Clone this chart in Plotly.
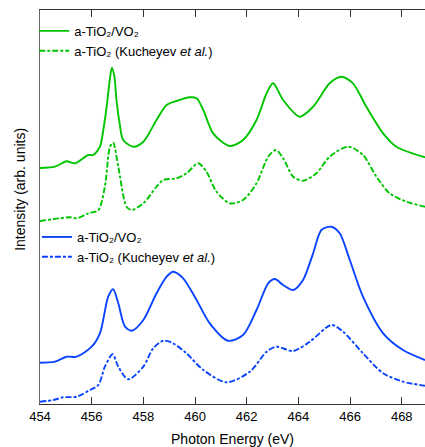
import plotly.graph_objects as go

# Photon energies (eV) and intensities (arb. units, offset stacked)
e_green_solid = [454.0, 454.58, 455.03, 455.35, 455.87, 456.06, 456.32, 456.45, 456.58, 456.7, 456.78,
                 456.88, 456.96, 457.08, 457.22, 457.61, 458.0, 458.51, 458.9, 459.28, 459.8, 460.06,
                 460.32, 460.7, 461.35, 461.86, 462.38, 462.77, 463.02, 463.41, 464.05, 464.57, 465.21,
                 465.66, 466.11, 466.63, 467.28, 467.79, 468.9]
i_green_solid = [236, 237.3, 242.7, 240.7, 249, 249, 257.3, 274, 297.3, 324, 336.3,
                 327.3, 304, 281, 264, 257.3, 262.3, 284, 299, 303, 306.7, 305.7,
                 294, 270.7, 258, 264, 284, 310.7, 320.7, 304, 287.3, 297.3, 320.7,
                 327.3, 320.7, 297.3, 270.7, 257.3, 246.7]

e_green_dash = [454.0, 454.77, 455.16, 455.42, 455.87, 456.26, 456.51, 456.71, 456.83, 457.03, 457.35,
                457.55, 458.0, 458.51, 458.77, 459.28, 459.67, 460.12, 460.44, 460.83, 461.35, 461.86,
                462.38, 462.83, 463.13, 463.41, 463.8, 464.18, 464.7, 465.21, 465.92, 466.5, 467.02,
                467.53, 468.18, 468.9]
i_green_dash = [183, 185.7, 186.7, 185.7, 190.7, 194, 217.3, 257.3, 261.3, 237.3, 197.3,
                194, 200.7, 217.3, 224, 225.7, 230.7, 240.7, 232.3, 212.3, 200.7, 204,
                220.7, 247.3, 254, 245.7, 227.3, 223.3, 230.7, 247.3, 257.3, 249, 227.3,
                210.7, 202.3, 197.3]

e_blue_solid = [454.0, 454.58, 455.03, 455.42, 456.0, 456.32, 456.64, 456.83, 457.03, 457.29, 457.55,
                458.0, 458.51, 458.9, 459.15, 459.54, 460.06, 460.57, 461.28, 461.86, 462.38, 462.83,
                463.09, 463.41, 463.8, 464.18, 464.57, 464.89, 465.28, 465.6, 465.99, 466.5, 467.28,
                468.05, 468.9]
i_blue_solid = [41.3, 42.3, 47.3, 47.3, 57.3, 70.7, 107.3, 114.7, 100.7, 77.3, 73.3,
                84, 110.7, 127.3, 132.3, 125.7, 104, 80.7, 63.3, 69, 94, 120.7,
                125, 119, 114, 124, 150.7, 174, 177.3, 170.7, 144, 107.3, 70.7,
                54, 44]

e_blue_dash = [454.0, 454.52, 454.9, 455.42, 455.93, 456.26, 456.51, 456.81, 457.03, 457.41, 458.0,
               458.38, 458.77, 459.15, 459.67, 460.32, 461.22, 462.12, 462.77, 463.15, 463.8, 464.44,
               465.28, 465.73, 466.5, 467.28, 468.05, 468.9]
i_blue_dash = [2.3, 4, 6.7, 7.3, 14, 19, 37.3, 49.7, 37.3, 24.7, 37.3,
               55.7, 63.3, 60.7, 50.7, 34, 21.7, 32.3, 52.3, 57.3, 53, 62.3,
               79, 72.3, 50.7, 30.7, 22.3, 18.3]

x_ticks = [454, 456, 458, 460, 462, 464, 466, 468]

NAME_FILM = "a-TiO₂/VO₂"
NAME_REF = "a-TiO₂ (Kucheyev <i>et al.</i>)"

GREEN = "#00C400"
BLUE = "#0A44FF"
FONT = "Liberation Sans, Arial, sans-serif"
DASH = "6px,2px,3px,2px"
LW = 1.9

fig = go.Figure()
fig.add_trace(go.Scatter(x=e_green_solid, y=i_green_solid, mode="lines",
                         line=dict(color=GREEN, width=LW, shape="spline", smoothing=0.8),
                         name=NAME_FILM, legend="legend"))
fig.add_trace(go.Scatter(x=e_green_dash, y=i_green_dash, mode="lines",
                         line=dict(color=GREEN, width=LW, shape="spline", smoothing=0.8, dash=DASH),
                         name=NAME_REF, legend="legend"))
fig.add_trace(go.Scatter(x=e_blue_solid, y=i_blue_solid, mode="lines",
                         line=dict(color=BLUE, width=LW, shape="spline", smoothing=0.8),
                         name=NAME_FILM, legend="legend2"))
fig.add_trace(go.Scatter(x=e_blue_dash, y=i_blue_dash, mode="lines",
                         line=dict(color=BLUE, width=LW, shape="spline", smoothing=0.8, dash=DASH),
                         name=NAME_REF, legend="legend2"))

legend_common = dict(font=dict(family=FONT, size=13, color="#000"), bgcolor="rgba(0,0,0,0)",
                     itemwidth=30, tracegroupgap=0, xanchor="left", yanchor="top")
fig.update_layout(
    width=425, height=447,
    margin=dict(l=40, r=0, t=10, b=43),
    paper_bgcolor="white", plot_bgcolor="white",
    font=dict(family=FONT, color="#000"),
    legend=dict(x=-0.015, y=0.985, **legend_common),
    legend2=dict(x=-0.008, y=0.462, **legend_common),
    xaxis=dict(range=[454, 468.9], tickvals=x_ticks, ticks="inside", ticklen=7, tickwidth=1,
               tickcolor="#333", showline=True, linecolor="#333", linewidth=1, mirror="ticks",
               showgrid=False, zeroline=False, tickfont=dict(size=13), automargin=False,
               title=dict(text="Photon Energy (eV)", font=dict(size=14))),
    yaxis=dict(range=[0, 394], showticklabels=False, ticks="", showline=True, linecolor="#666",
               linewidth=1, showgrid=False, zeroline=False, automargin=False),
    annotations=[dict(text="Intensity (arb. units)", textangle=-90, xref="paper", yref="paper",
                      x=-0.052, y=0.546, xanchor="center", yanchor="middle", showarrow=False,
                      font=dict(family=FONT, size=14, color="#000"))],
)
fig.write_html("out.html", config={"displayModeBar": False},
               post_script="document.body.style.margin='0';document.body.style.overflow='hidden';")
